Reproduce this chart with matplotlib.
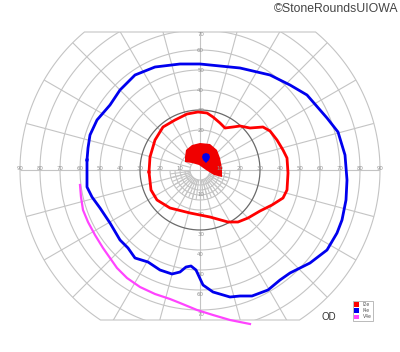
import numpy as np
import matplotlib
matplotlib.use("Agg")
import matplotlib.pyplot as plt
from matplotlib.patches import Polygon, Patch

# ---------------- data (degrees of visual field: x = horizontal, y = vertical) -------------
ring_values = [10, 20, 30, 40, 50, 60, 70, 80, 90]
h_tick_labels = ["10", "20", "30", "40", "50", "60", "70", "80", "90"]
v_top_labels = [20, 30, 40, 50, 60, 70]
v_bottom_labels = [10, 20, 30, 40, 50, 60, 70]
meridian_step = 15
field_top = 69
field_bottom = -75

# I2e central filled (red)
i2e_fill_x = [-7.5, -7, -4, 0, 5, 8.5, 10, 11, 11, 7, 3, -0.5, -4, -7.5]
i2e_fill_y = [6.5, 10, 12.5, 13.5, 13, 10, 6, 1, -3.5, -2.5, 0, 2.5, 3.5, 4]

# I2e isopter (red line)
i2e_x = [-25.5, -25, -22.5, -18.5, -12.5, -6.5, -1, 3.5, 6.5, 10, 12.5, 16.5, 20, 25, 31.5,
         35, 38.5, 41.5, 43.5, 44, 43.5, 41.5, 36, 30, 24, 19, 14, 5, -5, -15, -21.5, -24.5]
i2e_y = [-1, 6.5, 15, 21.5, 25, 28, 29, 28.5, 26.5, 23.5, 21, 21.5, 22, 21, 21.5,
         19.5, 15, 10, 6, -1.5, -10, -14, -17.5, -20.5, -24, -26, -26, -23.5, -21.5, -19, -15, -10]

# I4e central spot (blue)
i4e_spot_x = [3, 4.5, 5, 4.5, 3, 1.5, 1, 1.5]
i4e_spot_y = [8.5, 8, 6.5, 5, 3.5, 5, 6.5, 8]

# I4e isopter (blue line)
i4e_x = [-56.5, -56.5, -54, -50, -45, -40, -36, -32.5, -26, -20, -14, -10, -7, -4.5, -2, 1.5,
         6.5, 15, 20, 26, 34, 40, 45, 55, 63.5, 68.5, 71, 73, 73.5, 72.5, 69, 63.5, 53.5, 45,
         35, 20, 10, 0, -10, -22.5, -32.5, -40, -45, -51.5, -55, -56]
i4e_y = [5, -8.5, -13.5, -19, -26.5, -35, -39, -44, -46, -50, -52, -51, -48.5, -48, -50, -57.5,
         -61, -63.5, -63, -63, -60, -55, -51.5, -46.5, -40, -31.5, -25, -15, -5, 7.5, 19, 26, 37.5, 42.5,
         47.5, 51, 52, 53, 53, 51.5, 47.5, 40, 32.5, 25, 17.5, 11]

# V4e isopter (magenta, open)
v4e_x = [-60, -59.5, -58.5, -56, -52.5, -48.5, -45, -41.5, -36.5, -30, -22.5, -15, -10, -1.5, 6.5, 15, 25]
v4e_y = [-7.5, -13.5, -20, -26, -32.5, -39, -44, -49, -54, -58.5, -62, -64.5, -66.5, -70, -72.5, -75, -77]

legend_labels = ["I2e", "I4e", "V4e"]
RED = "#ff0000"
BLUE = "#0000ee"
MAGENTA = "#ff44ff"
GRID = "#c4c4c4"

# ---------------- figure -------------
fig = plt.figure(figsize=(4.0, 3.52), dpi=100)
ax = fig.add_axes([0, 0, 1, 1])
ax.set_xlim(-100, 100)
ax.set_ylim(-91, 85)
ax.axis("off")

# clip region of the chart
R = ring_values[-1]
a_top = np.degrees(np.arcsin(field_top / R))
a_bot = np.degrees(np.arcsin(-field_bottom / R))
t1 = np.radians(np.linspace(180 - a_top, 180 + a_bot, 200))
t2 = np.radians(np.linspace(360 - a_bot, 360 + a_top, 200))
bx = np.concatenate([R * np.cos(t1), R * np.cos(t2)])
by = np.concatenate([R * np.sin(t1), R * np.sin(t2)])
boundary = Polygon(np.column_stack([bx, by]), closed=True, facecolor="none",
                   edgecolor=GRID, lw=0.8, zorder=2)
ax.add_patch(boundary)
clip = Polygon(np.column_stack([bx, by]), closed=True, transform=ax.transData)

def gline(x, y, color=GRID, lw=0.8, z=2):
    ln, = ax.plot(x, y, color=color, lw=lw, zorder=z, solid_capstyle="butt")
    ln.set_clip_path(clip)
    return ln

th = np.linspace(0, 2 * np.pi, 400)
for r in ring_values[:-1]:
    gline(r * np.cos(th), r * np.sin(th),
          color="#6a6a6a" if r == 30 else GRID, lw=0.9 if r == 30 else 0.8, z=2.2 if r == 30 else 2)
gline(5 * np.cos(th), 5 * np.sin(th))

# meridians
for a in range(0, 360, meridian_step):
    ar = np.radians(a)
    r0 = 0 if a % 90 == 0 else 5
    gline([r0 * np.cos(ar), R * np.cos(ar)], [r0 * np.sin(ar), R * np.sin(ar)])

# lower central detail
thl = np.linspace(np.pi, 2 * np.pi, 200)
for r in [7.5, 12.5, 15]:
    gline(r * np.cos(thl), r * np.sin(thl))
for a in np.arange(187.5, 360, 7.5):
    ar = np.radians(a)
    gline([5 * np.cos(ar), 15 * np.cos(ar)], [5 * np.sin(ar), 15 * np.sin(ar)])

# tick labels
lab_kw = dict(fontsize=3.9, color="#909090", ha="center", va="center", zorder=3,
              family="DejaVu Sans")
for r, s in zip(ring_values, h_tick_labels):
    ax.text(-r, 1.0, s, **lab_kw)
    ax.text(r, 1.0, s, **lab_kw)
for r in v_top_labels:
    ax.text(0.3, min(r, 67.5), str(r), **lab_kw)
for r in v_bottom_labels:
    ax.text(0.3, -r - 2.2, str(r), **lab_kw)

# isopters
ax.fill(i2e_fill_x, i2e_fill_y, color="#f00000", lw=0, zorder=2.6)
ax.plot(np.append(i2e_x, i2e_x[0]), np.append(i2e_y, i2e_y[0]), color=RED, lw=2.0, zorder=4,
        solid_joinstyle="round")
ax.fill(i4e_spot_x, i4e_spot_y, color=BLUE, lw=0, zorder=5)
ax.plot(np.append(i4e_x, i4e_x[0]), np.append(i4e_y, i4e_y[0]), color=BLUE, lw=2.0, zorder=4,
        solid_joinstyle="round")
ax.plot(v4e_x, v4e_y, color=MAGENTA, lw=1.6, zorder=4, solid_joinstyle="round")

# legend
handles = [Patch(facecolor=c, edgecolor="none") for c in [RED, BLUE, MAGENTA]]
leg = ax.legend(handles, legend_labels, loc="lower right", bbox_to_anchor=(373 / 400, 31 / 352),
                fontsize=3.3, handlelength=1.0, handleheight=1.1, handletextpad=0.8,
                labelspacing=0.25, borderpad=0.35, borderaxespad=0, fancybox=False,
                edgecolor="#b0b0b0", framealpha=1)
leg.get_frame().set_linewidth(0.6)
for t in leg.get_texts():
    t.set_color("#555555")

ax.text(329 / 2 - 100, (170 - 317) / 2, "OD", fontsize=7, ha="center", va="center",
        color="#333333", family="Liberation Sans")
fig.text(398 / 400, 1 - 9 / 352, "\u00a9StoneRoundsUIOWA", fontsize=8.8, ha="right", va="center",
         color="#444444", family="Liberation Sans")

fig.savefig("out.png", dpi=100, facecolor="white")
